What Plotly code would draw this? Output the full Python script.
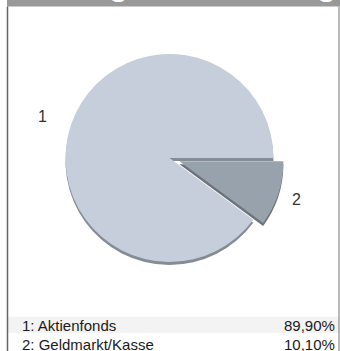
import numpy as np
import plotly.graph_objects as go

W, H = 340, 351

# ---- data ----
title_text = "Vermögensaufteilung"
slice_ids = ["1", "2"]
slice_names = ["Aktienfonds", "Geldmarkt/Kasse"]
slice_values = [89.90, 10.10]
face_colors = ["#c5ceda", "#97a2ad"]
side_colors = ["#868c95", "#6c737b"]

FONT = "Liberation Sans, Arial, Helvetica, sans-serif"

def px(x):
    return x / W

def py(y):
    return 1 - y / H

# pie geometry (pixels)
cx, cy, r, pull = 169.5, 158.0, 104.0, 0.1
half = r * (1 + pull)
depth = 3.0

vals = np.array(slice_values, dtype=float)
frac = vals / vals.sum()
start_angle = 90 + 360 * frac[1]  # clockwise from 12 o'clock where slice 1 starts
rotation = start_angle

fig = go.Figure()

def pie_trace(colors, dy):
    return go.Pie(
        labels=slice_ids,
        values=slice_values,
        sort=False,
        direction="clockwise",
        rotation=rotation,
        pull=[0, pull],
        marker=dict(colors=colors, line=dict(width=0)),
        textinfo="none",
        hoverinfo="label+value",
        showlegend=False,
        domain=dict(
            x=[px(cx - half), px(cx + half)],
            y=[py(cy + dy + half), py(cy + dy - half)],
        ),
    )

fig.add_trace(pie_trace(side_colors, depth))
fig.add_trace(pie_trace(face_colors, 0))

# slice labels outside the pie, along each slice's bisector
cum = np.concatenate([[0], np.cumsum(frac)])
mids = start_angle + 360 * (cum[:-1] + cum[1:]) / 2
annotations = []
for lab, a in zip(slice_ids, mids):
    t = np.deg2rad(a)
    lx = cx + 1.29 * r * np.sin(t)
    ly = cy - 1.29 * r * np.cos(t)
    annotations.append(dict(
        x=px(lx), y=py(ly), xref="paper", yref="paper", text=lab,
        showarrow=False, xanchor="center", yanchor="middle",
        font=dict(family=FONT, size=16, color="#333333"),
    ))

# header title (mostly above the visible area)
annotations.append(dict(
    x=px(9), y=py(4.3), xref="paper", yref="paper", text="<b>" + title_text + "</b>",
    showarrow=False, xanchor="left", yanchor="bottom",
    font=dict(family=FONT, size=32, color="#ffffff"),
))

# legend rows
row_y = [325.0, 344.5]
for i, (lab, name, v) in enumerate(zip(slice_ids, slice_names, slice_values)):
    annotations.append(dict(
        x=px(20), y=py(row_y[i]), xref="paper", yref="paper",
        text=f"{lab}: {name}", showarrow=False, xanchor="left", yanchor="middle",
        font=dict(family=FONT, size=15, color="#1a1a1a"),
    ))
    annotations.append(dict(
        x=px(337), y=py(row_y[i]), xref="paper", yref="paper",
        text=f"{v:.2f}".replace(".", ",") + "%", showarrow=False,
        xanchor="right", yanchor="middle",
        font=dict(family=FONT, size=15, color="#1a1a1a"),
    ))

shapes = [
    # header band
    dict(type="rect", xref="paper", yref="paper", x0=px(7), x1=1, y0=py(6.5), y1=1,
         fillcolor="#999999", line=dict(width=0), layer="below"),
    # legend first-row band
    dict(type="rect", xref="paper", yref="paper", x0=px(8), x1=px(339), y0=py(333), y1=py(316.7),
         fillcolor="#f3f3f3", line=dict(width=0), layer="below"),
    # frame lines
    dict(type="line", xref="paper", yref="paper", x0=px(7.5), x1=px(7.5), y0=py(6.5), y1=0,
         line=dict(color="#666666", width=1.5)),
    dict(type="line", xref="paper", yref="paper", x0=px(339), x1=px(339), y0=py(6.5), y1=0,
         line=dict(color="#8a8a8a", width=1.2)),
]

fig.update_layout(
    width=W, height=H,
    margin=dict(l=0, r=0, t=0, b=0),
    paper_bgcolor="#ffffff",
    plot_bgcolor="#ffffff",
    annotations=annotations,
    shapes=shapes,
)

fig.write_html(
    "out.html",
    config={"displayModeBar": False},
    post_script="document.body.style.margin='0';document.body.style.overflow='hidden';",
)
